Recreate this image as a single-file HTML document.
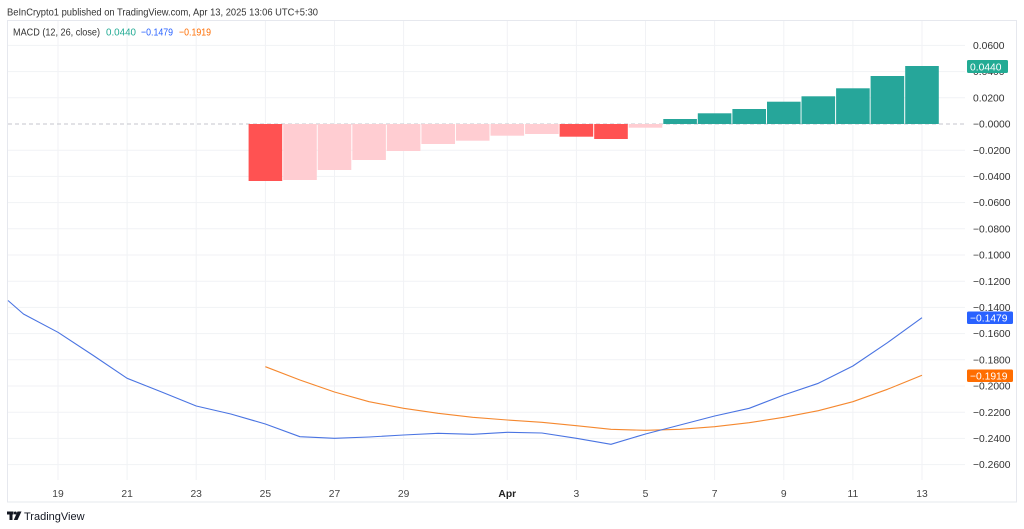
<!DOCTYPE html>
<html>
<head>
<meta charset="utf-8">
<style>
  html,body{margin:0;padding:0;background:#fff;}
  svg{display:block;}
  text{font-family:"Liberation Sans",Arial,sans-serif;}
</style>
</head>
<body>
<svg width="1024" height="529" viewBox="0 0 1024 529" xmlns="http://www.w3.org/2000/svg">
  <rect x="0" y="0" width="1024" height="529" fill="#ffffff"/>

  <!-- header -->
  <text x="7" y="15.5" font-size="10.5" fill="#333" textLength="311" lengthAdjust="spacingAndGlyphs">BeInCrypto1 published on TradingView.com, Apr 13, 2025 13:06 UTC+5:30</text>

  <!-- panel border -->
  <rect x="7.5" y="20.5" width="1009" height="481.5" fill="none" stroke="#E6E8EE" stroke-width="1"/>

  <!-- horizontal grid -->
  <g stroke="#F1F2F5" stroke-width="1">
    <line x1="8" y1="45.4" x2="965" y2="45.4"/>
    <line x1="8" y1="71.6" x2="965" y2="71.6"/>
    <line x1="8" y1="97.8" x2="965" y2="97.8"/>
    <line x1="8" y1="150.2" x2="965" y2="150.2"/>
    <line x1="8" y1="176.4" x2="965" y2="176.4"/>
    <line x1="8" y1="202.6" x2="965" y2="202.6"/>
    <line x1="8" y1="228.8" x2="965" y2="228.8"/>
    <line x1="8" y1="255" x2="965" y2="255"/>
    <line x1="8" y1="281.2" x2="965" y2="281.2"/>
    <line x1="8" y1="307.4" x2="965" y2="307.4"/>
    <line x1="8" y1="333.6" x2="965" y2="333.6"/>
    <line x1="8" y1="359.8" x2="965" y2="359.8"/>
    <line x1="8" y1="386" x2="965" y2="386"/>
    <line x1="8" y1="412.2" x2="965" y2="412.2"/>
    <line x1="8" y1="438.4" x2="965" y2="438.4"/>
    <line x1="8" y1="464.6" x2="965" y2="464.6"/>
  </g>
  <!-- vertical grid -->
  <g stroke="#F1F2F5" stroke-width="1">
    <line x1="58" y1="21" x2="58" y2="480"/>
    <line x1="127.1" y1="21" x2="127.1" y2="480"/>
    <line x1="196.2" y1="21" x2="196.2" y2="480"/>
    <line x1="265.4" y1="21" x2="265.4" y2="480"/>
    <line x1="334.5" y1="21" x2="334.5" y2="480"/>
    <line x1="403.6" y1="21" x2="403.6" y2="480"/>
    <line x1="507.3" y1="21" x2="507.3" y2="480"/>
    <line x1="576.4" y1="21" x2="576.4" y2="480"/>
    <line x1="645.5" y1="21" x2="645.5" y2="480"/>
    <line x1="714.6" y1="21" x2="714.6" y2="480"/>
    <line x1="783.8" y1="21" x2="783.8" y2="480"/>
    <line x1="852.9" y1="21" x2="852.9" y2="480"/>
    <line x1="922" y1="21" x2="922" y2="480"/>
  </g>

  <!-- legend -->
  <text x="13" y="35.5" font-size="10.5" fill="#333" textLength="87" lengthAdjust="spacingAndGlyphs">MACD (12, 26, close)</text>
  <text x="106" y="35.5" font-size="10.5" fill="#22AB94" textLength="30" lengthAdjust="spacingAndGlyphs">0.0440</text>
  <text x="141" y="35.5" font-size="10.5" fill="#2962FF" textLength="32" lengthAdjust="spacingAndGlyphs">−0.1479</text>
  <text x="179" y="35.5" font-size="10.5" fill="#FF6D00" textLength="32" lengthAdjust="spacingAndGlyphs">−0.1919</text>

  <!-- zero line -->
  <line x1="8" y1="124" x2="965" y2="124" stroke="#C4C6CC" stroke-width="1" stroke-dasharray="4 3"/>

  <!-- histogram -->
  <g>
    <rect x="248.6" y="124" width="33.6" height="57" fill="#FF5252"/>
    <rect x="283.2" y="124" width="33.6" height="56" fill="#FFCDD2"/>
    <rect x="317.7" y="124" width="33.6" height="46" fill="#FFCDD2"/>
    <rect x="352.3" y="124" width="33.6" height="36" fill="#FFCDD2"/>
    <rect x="386.8" y="124" width="33.6" height="27" fill="#FFCDD2"/>
    <rect x="421.4" y="124" width="33.6" height="20" fill="#FFCDD2"/>
    <rect x="455.9" y="124" width="33.6" height="16.7" fill="#FFCDD2"/>
    <rect x="490.5" y="124" width="33.6" height="11.7" fill="#FFCDD2"/>
    <rect x="525.1" y="124" width="33.6" height="10" fill="#FFCDD2"/>
    <rect x="559.6" y="124" width="33.6" height="12.7" fill="#FF5252"/>
    <rect x="594.2" y="124" width="33.6" height="15" fill="#FF5252"/>
    <rect x="628.7" y="124" width="33.6" height="3.7" fill="#FFCDD2"/>
    <rect x="663.3" y="119" width="33.6" height="5" fill="#26A69A"/>
    <rect x="697.8" y="113.3" width="33.6" height="10.7" fill="#26A69A"/>
    <rect x="732.4" y="109" width="33.6" height="15" fill="#26A69A"/>
    <rect x="767" y="101.7" width="33.6" height="22.3" fill="#26A69A"/>
    <rect x="801.5" y="96.3" width="33.6" height="27.7" fill="#26A69A"/>
    <rect x="836.1" y="88.3" width="33.6" height="35.7" fill="#26A69A"/>
    <rect x="870.6" y="76" width="33.6" height="48" fill="#26A69A"/>
    <rect x="905.2" y="66" width="33.6" height="58" fill="#26A69A"/>
  </g>

  <!-- signal line -->
  <polyline fill="none" stroke="#F5882F" stroke-width="1.1" stroke-linejoin="round"
    points="265.36,366.7 299.92,380 334.48,392 369.04,401.7 403.6,408.3 438.16,413.3 472.72,417.3 507.28,420 541.84,422.3 576.4,425.7 610.96,429.3 645.52,430.3 680.08,429.3 714.64,426.7 749.2,422.7 783.76,417.3 818.32,410.7 852.88,401.7 887.44,389.3 922,375.3"/>

  <!-- MACD line -->
  <polyline fill="none" stroke="#4A74E2" stroke-width="1.1" stroke-linejoin="round"
    points="8,300.5 23.44,314 58,332.3 92.56,355 127.12,378.3 161.68,392 196.24,406 230.8,414 265.36,424 299.92,436.7 334.48,438.3 369.04,437 403.6,435 438.16,433.3 472.72,434.3 507.28,432.3 541.84,433 576.4,438.3 610.96,444.3 645.52,434 680.08,425 714.64,416 749.2,408.3 783.76,395 818.32,383.3 852.88,366 887.44,342.7 922,317.7"/>

  <!-- y axis labels -->
  <g font-size="10.3" fill="#333">
    <text x="973" y="49">0.0600</text>
    <text x="973" y="75.2">0.0400</text>
    <text x="973" y="101.4">0.0200</text>
    <text x="973" y="127.6">−0.0000</text>
    <text x="973" y="153.8">−0.0200</text>
    <text x="973" y="180">−0.0400</text>
    <text x="973" y="206.2">−0.0600</text>
    <text x="973" y="232.4">−0.0800</text>
    <text x="973" y="258.6">−0.1000</text>
    <text x="973" y="284.8">−0.1200</text>
    <text x="973" y="311">−0.1400</text>
    <text x="973" y="337.2">−0.1600</text>
    <text x="973" y="363.4">−0.1800</text>
    <text x="973" y="389.6">−0.2000</text>
    <text x="973" y="415.8">−0.2200</text>
    <text x="973" y="442">−0.2400</text>
    <text x="973" y="468.2">−0.2600</text>
  </g>

  <!-- price tags -->
  <rect x="967" y="60" width="41" height="13" rx="1.5" fill="#22AB94"/>
  <text x="970" y="70.3" font-size="10.3" fill="#fff">0.0440</text>
  <rect x="967" y="311.5" width="46" height="12.5" rx="1.5" fill="#2962FF"/>
  <text x="970" y="321.5" font-size="10.3" fill="#fff">−0.1479</text>
  <rect x="967" y="369.5" width="46" height="12.5" rx="1.5" fill="#FF6D00"/>
  <text x="970" y="379.5" font-size="10.3" fill="#fff">−0.1919</text>

  <!-- x axis labels -->
  <g font-size="10.3" fill="#444" text-anchor="middle">
    <text x="58" y="497">19</text>
    <text x="127.1" y="497">21</text>
    <text x="196.2" y="497">23</text>
    <text x="265.4" y="497">25</text>
    <text x="334.5" y="497">27</text>
    <text x="403.6" y="497">29</text>
    <text x="507.3" y="497" font-weight="bold" fill="#222">Apr</text>
    <text x="576.4" y="497">3</text>
    <text x="645.5" y="497">5</text>
    <text x="714.6" y="497">7</text>
    <text x="783.8" y="497">9</text>
    <text x="852.9" y="497">11</text>
    <text x="922" y="497">13</text>
  </g>

  <!-- TradingView logo -->
  <g fill="#131722">
    <rect x="7" y="511.5" width="6.5" height="3"/>
    <rect x="9.5" y="511.5" width="3" height="8.5"/>
    <circle cx="15.3" cy="513" r="1.5"/>
    <polygon points="17.5,511.5 21.5,511.5 17.5,520 13.8,520"/>
  </g>
  <text x="24" y="520" font-size="11" fill="#131722">TradingView</text>
</svg>
</body>
</html>
